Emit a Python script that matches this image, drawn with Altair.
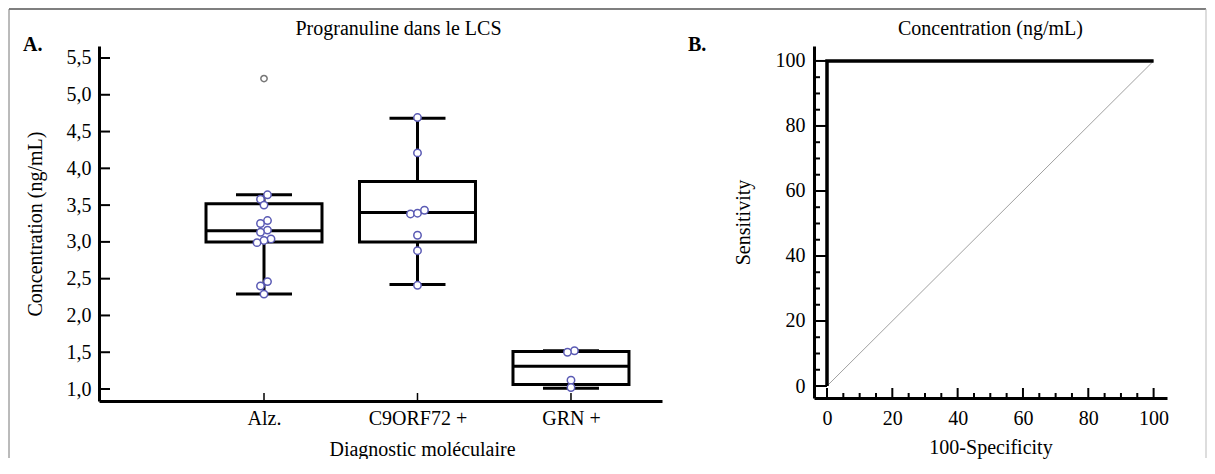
import json
import altair as alt
import pandas as pd

FONT = "Liberation Serif"

# ---------------- data: panel A ----------------
CATEGORIES = ["Alz.", "C9ORF72 +", "GRN +"]
ALZ_VALUES = [3.64, 3.58, 3.50, 3.29, 3.25, 3.16, 3.13, 3.04, 3.02, 2.99, 2.46, 2.40, 2.29]
C9_VALUES = [4.69, 4.21, 3.38, 3.39, 3.43, 3.09, 2.88, 2.41]
GRN_VALUES = [1.52, 1.50, 1.12, 1.02]
OUTLIER_CATS = ["Alz."]
OUTLIER_VALUES = [5.22]

WHISK_LO = [2.29, 2.42, 1.01]
Q1 = [3.00, 3.00, 1.06]
MEDIAN = [3.15, 3.40, 1.31]
Q3 = [3.52, 3.82, 1.51]
WHISK_HI = [3.64, 4.68, 1.52]

Y_TICKS_A = [1.0, 1.5, 2.0, 2.5, 3.0, 3.5, 4.0, 4.5, 5.0, 5.5]

TITLE_A = "Progranuline dans le LCS"
XTITLE_A = "Diagnostic moléculaire"
YTITLE_A = "Concentration (ng/mL)"

# ---------------- data: panel B ----------------
ROC_X = [0, 0, 100]
ROC_Y = [0, 100, 100]
DIAG_X = [0, 100]
DIAG_Y = [0, 100]
TICKS_B = [0, 20, 40, 60, 80, 100]
MINOR_B = [v for v in range(0, 101, 5) if v not in TICKS_B]

TITLE_B = "Concentration (ng/mL)"
XTITLE_B = "100-Specificity"
YTITLE_B = "Sensitivity"

# ---------------- layout constants ----------------
W1, H1 = 563, 355
W2, H2 = 353, 352
PX_PER_CAT = 153.5
BOX_HALF = 58 / PX_PER_CAT
CAP_HALF = 28 / PX_PER_CAT

X_SCALE_A = alt.Scale(domain=[-1.075, 2.593], nice=False, zero=False)
Y_SCALE_A = alt.Scale(domain=[0.837, 5.663], nice=False, zero=False)
X_SCALE_B = alt.Scale(domain=[-3.98, 104.1], nice=False, zero=False)
Y_SCALE_B = alt.Scale(domain=[-3.69, 104.6], nice=False, zero=False)


def dodge(values, thr=0.075, step_px=7.0):
    order = sorted(range(len(values)), key=lambda i: values[i])
    groups, cur = [], [order[0]]
    for i in order[1:]:
        if values[i] - values[cur[-1]] < thr:
            cur.append(i)
        else:
            groups.append(cur)
            cur = [i]
    groups.append(cur)
    off = [0.0] * len(values)
    for g in groups:
        n = len(g)
        for k, i in enumerate(g):
            off[i] = (k - (n - 1) / 2) * step_px / PX_PER_CAT
    return off


rows = []
for ci, vals in enumerate([ALZ_VALUES, C9_VALUES, GRN_VALUES]):
    offs = dodge(vals)
    for v, o in zip(vals, offs):
        rows.append({"idx": ci, "value": v, "xpos": ci + o})
points_df = pd.DataFrame(rows)
out_df = pd.DataFrame({"idx": [CATEGORIES.index(c) for c in OUTLIER_CATS], "value": OUTLIER_VALUES})

box_df = pd.DataFrame({
    "idx": list(range(len(CATEGORIES))), "lo": WHISK_LO, "q1": Q1,
    "med": MEDIAN, "q3": Q3, "hi": WHISK_HI,
})
box_df["xl"] = box_df["idx"] - BOX_HALF
box_df["xr"] = box_df["idx"] + BOX_HALF
box_df["cl"] = box_df["idx"] - CAP_HALF
box_df["cr"] = box_df["idx"] + CAP_HALF

one = pd.DataFrame({"k": [0]})

label_expr_x = json.dumps(CATEGORIES) + "[datum.value]"

X_AXIS_A = alt.Axis(values=[0, 1, 2], labelExpr=label_expr_x, ticks=False, tickSize=0,
                    labelPadding=7, domainWidth=3, title=XTITLE_A,
                    titleX=323, titleY=54, titleBaseline="alphabetic", titleAlign="center")
Y_AXIS_A = alt.Axis(values=Y_TICKS_A,
                    labelExpr="replace(format(datum.value, '.1f'), '.', ',')",
                    ticks=False, tickSize=0, labelPadding=8, domainWidth=3,
                    title=YTITLE_A, titleX=-64, titleY=H1 / 2, titleBaseline="middle")


def xa(field):
    return alt.X(field, scale=X_SCALE_A, axis=X_AXIS_A)


def ya(field):
    return alt.Y(field, scale=Y_SCALE_A, axis=Y_AXIS_A)


whisk = alt.Chart(box_df).mark_rule(color="black", strokeWidth=3).encode(
    x=xa("idx:Q"), y=ya("lo:Q"), y2="hi:Q")
box = alt.Chart(box_df).mark_rect(fill="white", stroke="black", strokeWidth=3).encode(
    x=xa("xl:Q"), x2="xr:Q", y=ya("q1:Q"), y2="q3:Q")
med = alt.Chart(box_df).mark_rule(color="black", strokeWidth=3).encode(
    x=xa("xl:Q"), x2="xr:Q", y=ya("med:Q"))
cap_lo = alt.Chart(box_df).mark_rule(color="black", strokeWidth=3).encode(
    x=xa("cl:Q"), x2="cr:Q", y=ya("lo:Q"))
cap_hi = alt.Chart(box_df).mark_rule(color="black", strokeWidth=3).encode(
    x=xa("cl:Q"), x2="cr:Q", y=ya("hi:Q"))
pts = alt.Chart(points_df).mark_point(shape="circle", fill="white", fillOpacity=1, opacity=1,
                                      stroke="#5a5ab4", strokeWidth=1.5, size=55).encode(
    x=xa("xpos:Q"), y=ya("value:Q"))
outl = alt.Chart(out_df).mark_point(shape="circle", fill="white", fillOpacity=1, opacity=1,
                                    stroke="#777777", strokeWidth=1.5, size=40).encode(
    x=xa("idx:Q"), y=ya("value:Q"))
ytick_a = alt.Chart(pd.DataFrame({"v": Y_TICKS_A})).mark_rule(color="black", strokeWidth=2).encode(
    y=ya("v:Q"), x=alt.value(0), x2=alt.value(11))
xtick_a = alt.Chart(pd.DataFrame({"i": list(range(len(CATEGORIES)))})).mark_rule(
    color="black", strokeWidth=1.5).encode(
    x=xa("i:Q"), y=alt.value(H1), y2=alt.value(H1 - 8))
label_a = alt.Chart(one).mark_text(font=FONT, fontSize=20, fontWeight="bold", align="left",
                                   baseline="alphabetic", color="black").encode(
    x=alt.value(-76), y=alt.value(5), text=alt.value("A."))
title_a = alt.Chart(one).mark_text(font=FONT, fontSize=20, align="center",
                                   baseline="alphabetic", color="black").encode(
    x=alt.value(299.5), y=alt.value(-11), text=alt.value(TITLE_A))
frame_top = alt.Chart(one).mark_rule(color="#555555", strokeWidth=1.5).encode(
    x=alt.value(-90), x2=alt.value(1107), y=alt.value(-37))
frame_left = alt.Chart(one).mark_rule(color="#777777", strokeWidth=1).encode(
    x=alt.value(-90), y=alt.value(-37), y2=alt.value(412))
frame_right = alt.Chart(one).mark_rule(color="#bbbbbb", strokeWidth=1).encode(
    x=alt.value(1107), y=alt.value(-37), y2=alt.value(412))

panel_a = alt.layer(
    whisk, box, med, cap_lo, cap_hi, outl, pts, ytick_a, xtick_a,
    frame_top, frame_left, frame_right, label_a, title_a,
).properties(width=W1, height=H1)

# ---------------- panel B ----------------
roc_df = pd.DataFrame({"x": ROC_X, "y": ROC_Y, "o": list(range(len(ROC_X)))})
diag_df = pd.DataFrame({"x": DIAG_X, "y": DIAG_Y})

X_AXIS_B = alt.Axis(values=TICKS_B, ticks=False, tickSize=0, labelPadding=10, domainWidth=3,
                    title=XTITLE_B, titleY=55, titleBaseline="alphabetic")
Y_AXIS_B = alt.Axis(values=TICKS_B, ticks=False, tickSize=0, labelPadding=9, domainWidth=3,
                    title=YTITLE_B, titleX=-71, titleY=H2 / 2, titleBaseline="middle")


def xb(field):
    return alt.X(field, scale=X_SCALE_B, axis=X_AXIS_B)


def yb(field):
    return alt.Y(field, scale=Y_SCALE_B, axis=Y_AXIS_B)


diag = alt.Chart(diag_df).mark_line(color="#a0a0a0", strokeWidth=1).encode(
    x=xb("x:Q"), y=yb("y:Q"))
roc = alt.Chart(roc_df).mark_line(color="black", strokeWidth=3.5).encode(
    x=xb("x:Q"), y=yb("y:Q"), order="o:Q")
ymaj = alt.Chart(pd.DataFrame({"v": TICKS_B})).mark_rule(color="black", strokeWidth=2).encode(
    y=yb("v:Q"), x=alt.value(0), x2=alt.value(13))
ymin = alt.Chart(pd.DataFrame({"v": MINOR_B})).mark_rule(color="black", strokeWidth=2).encode(
    y=yb("v:Q"), x=alt.value(0), x2=alt.value(6))
xmaj = alt.Chart(pd.DataFrame({"v": TICKS_B})).mark_rule(color="black", strokeWidth=2).encode(
    x=xb("v:Q"), y=alt.value(H2), y2=alt.value(H2 - 10))
xmin = alt.Chart(pd.DataFrame({"v": MINOR_B})).mark_rule(color="black", strokeWidth=2).encode(
    x=xb("v:Q"), y=alt.value(H2), y2=alt.value(H2 - 5))
label_b = alt.Chart(one).mark_text(font=FONT, fontSize=20, fontWeight="bold", align="left",
                                   baseline="alphabetic", color="black").encode(
    x=alt.value(-126), y=alt.value(5), text=alt.value("B."))
title_b = alt.Chart(one).mark_text(font=FONT, fontSize=20, align="center",
                                   baseline="alphabetic", color="black").encode(
    x=alt.value(W2 / 2), y=alt.value(-11), text=alt.value(TITLE_B))

panel_b = alt.layer(diag, roc, ymaj, ymin, xmaj, xmin, label_b, title_b).properties(
    width=W2, height=H2)

chart = alt.hconcat(panel_a, panel_b, spacing=152, bounds="flush").properties(
    padding=0, background="white",
).configure_view(strokeWidth=0).configure_axis(
    grid=False, domainColor="black", labelFont=FONT, labelFontSize=20, labelColor="black",
    titleFont=FONT, titleFontSize=20, titleFontWeight="normal", titleColor="black",
)

chart.save("out.html", embed_options={"renderer": "svg", "actions": False})
